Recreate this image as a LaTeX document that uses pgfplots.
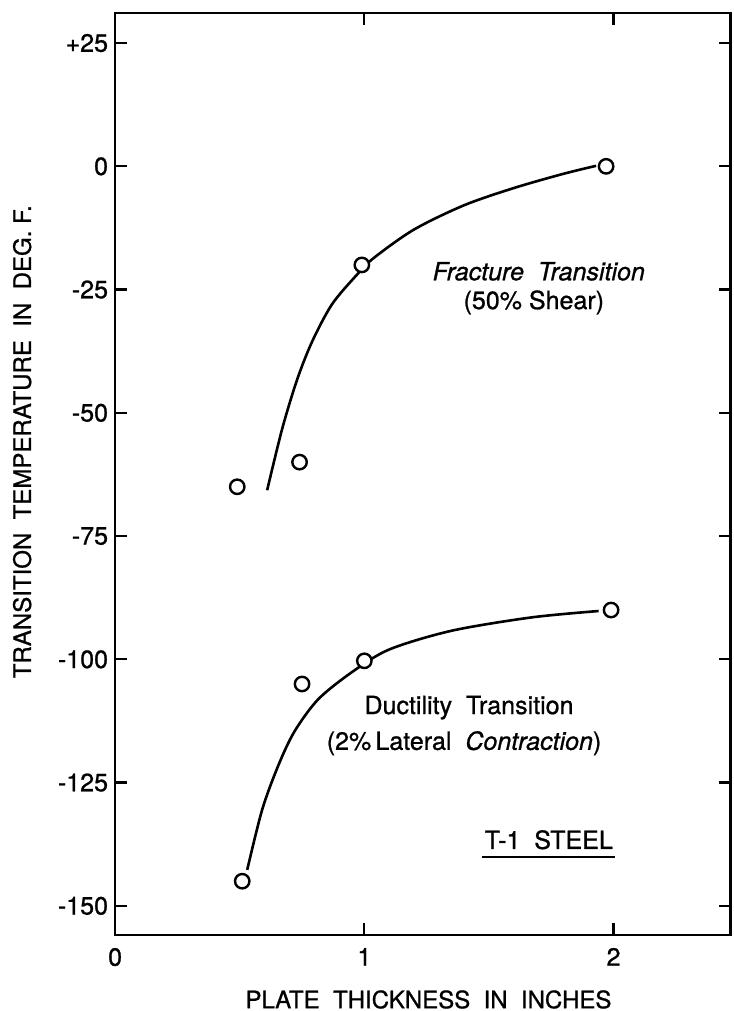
\documentclass[border=0pt]{standalone}
\usepackage{fontspec}
\setmainfont{TeX Gyre Heros}[FakeBold=0.9]
\usepackage{pgfplots}
\pgfplotsset{compat=1.18}

\begin{document}
\begin{tikzpicture}
\begin{axis}[
    scale only axis,
    width=307.5pt, height=460.5pt,
    xmin=0, xmax=2.47,
    ymin=-155.9, ymax=31.1,
    axis line style={line width=1.3pt},
    tick style={line width=1.1pt, black},
    tick align=inside,
    major tick length=6pt,
    xtick={0,1,2},
    xticklabels={0,1,2},
    ytick={-150,-125,-100,-75,-50,-25,0,25},
    yticklabels={-150,-125,-100,-75,-50,-25,0,+25},
    ticklabel style={font=\fontsize{12.5}{14}\selectfont},
    xticklabel style={yshift=-3pt},
    xlabel={PLATE\ \ THICKNESS\ \ IN\ \ INCHES},
    ylabel={TRANSITION\ \ TEMPERATURE\ \ IN\ \ DEG.\ F.},
    label style={font=\fontsize{12}{14}\selectfont},
    xlabel style={at={(axis description cs:0.509,-0.07)}, anchor=center},
    ylabel style={at={(axis description cs:-0.151,0.535)}, anchor=center},
    clip=false
]
% fracture transition curve
\addplot[black, line width=1.3pt, smooth, tension=0.5] coordinates {
    (0.61,-65.7)(0.67,-53.3)(0.73,-43.3)(0.79,-35.6)(0.87,-28.0)
    (0.97,-22.0)(1.04,-18.5)(1.2,-12.8)(1.4,-7.9)(1.6,-4.4)(1.8,-1.5)(1.93,0.1)
};
% ductility transition curve
\addplot[black, line width=1.3pt, smooth, tension=0.5] coordinates {
    (0.53,-142.7)(0.59,-130.5)(0.655,-121.5)(0.72,-114.6)(0.815,-108.1)
    (0.95,-102.6)(1.10,-98.0)(1.35,-94.2)(1.67,-91.5)(1.94,-90.2)
};
% fracture data
\addplot[only marks, mark=*, mark size=3.6pt,
    mark options={fill=white, draw=black, line width=1.2pt}] coordinates {
    (0.49,-65)(0.74,-60)(0.99,-20)(1.97,0)
};
% ductility data
\addplot[only marks, mark=*, mark size=3.6pt,
    mark options={fill=white, draw=black, line width=1.2pt}] coordinates {
    (0.51,-145)(0.75,-105)(1.0,-100.3)(1.99,-90)
};
\node[font=\fontsize{12.5}{14}\selectfont\itshape] at (axis cs:1.70,-21.3) {Fracture\ \ Transition};
\node[font=\fontsize{12.5}{14}\selectfont] at (axis cs:1.68,-27.6) {(50\%\ Shear)};
\node[font=\fontsize{12.5}{14}\selectfont] at (axis cs:1.42,-109.8) {Ductility\ \ Transition};
\node[font=\fontsize{12.5}{14}\selectfont] at (axis cs:1.40,-117.0) {(2\%\,Lateral\ \ \textit{Contraction})};
\node[font=\fontsize{12.5}{14}\selectfont, inner sep=1pt] (steel) at (axis cs:1.74,-136.6) {T-1\ \ STEEL};
\draw[line width=1.2pt] ([yshift=-2.5pt]steel.south west) -- ([yshift=-2.5pt]steel.south east);
\end{axis}
\pgfresetboundingbox
\path ([xshift=-57.5pt, yshift=-38pt]current axis.south west)
    rectangle ([xshift=1.5pt, yshift=6.5pt]current axis.north east);
\end{tikzpicture}
\end{document}
